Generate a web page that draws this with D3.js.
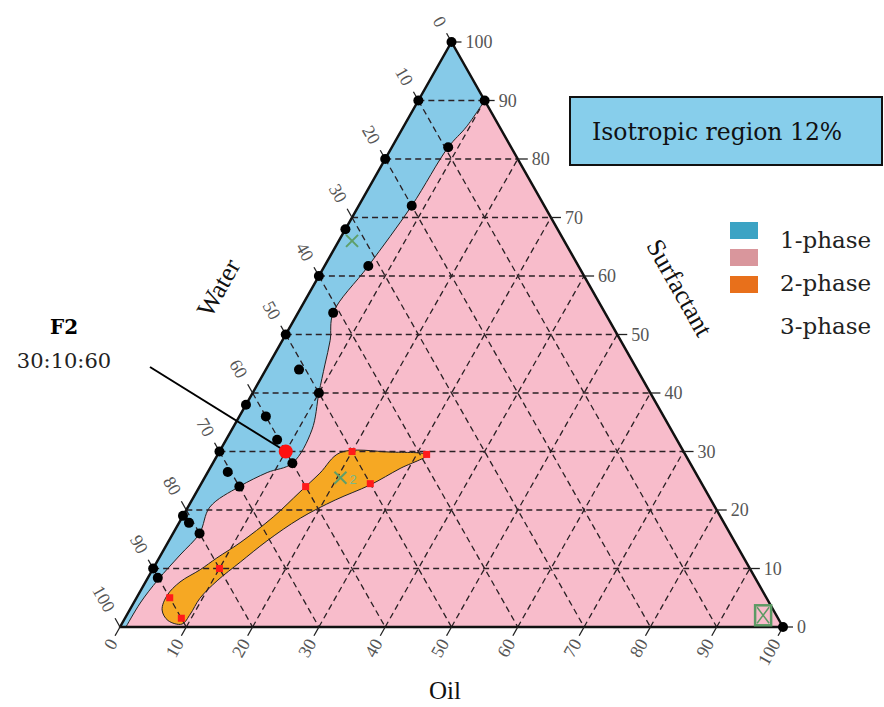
<!DOCTYPE html>
<html>
<head>
<meta charset="utf-8">
<script src="https://cdn.jsdelivr.net/npm/d3@7"></script>
<style>
  body { margin: 0; background: #fff; }
  svg { display: block; }
</style>
</head>
<body>
<svg id="chart" width="884" height="707"></svg>
<script>
// Compositions are [water, oil, surfactant] in percent.
const tickValues = [0, 10, 20, 30, 40, 50, 60, 70, 80, 90, 100];
const tickLabels = tickValues.map(String);
const gridValues = [10, 20, 30, 40, 50, 60, 70, 80, 90];

// Right-hand border of the one-phase (isotropic) region, top to bottom
const onePhaseBoundary = [
  [0, 10, 90], [5, 9.5, 85.5], [9.5, 8.5, 82], [20, 8, 72], [31.7, 6.6, 61.7],
  [41, 5.3, 53.7], [43.8, 7.2, 49], [46.7, 8.5, 44.8], [50, 10, 40],
  [54.2, 12.1, 33.7], [60, 12, 28], [64.6, 9, 26.4], [70, 6, 24],
  [76.2, 3.3, 20.5], [80, 4, 16], [84.8, 2.9, 12.3], [90.2, 1.7, 8.1],
  [94.9, 1, 4.1], [99.1, 0.9, 0]
];

// Outline of the two-phase band
const twoPhaseOutline = [
  [51.9, 18.3, 29.8], [56.6, 17, 26.3], [61.3, 15.6, 23.1], [67.5, 13.7, 18.8],
  [74.7, 10.9, 14.4], [79.5, 8.7, 11.8], [83, 7.2, 9.8], [87.1, 5.2, 7.7],
  [90.2, 4.4, 5.4], [92.2, 4.9, 2.9], [92.2, 6.7, 1.1], [90.4, 9.1, 0.5],
  [88.3, 9.5, 2.2], [85.5, 9.6, 4.9], [81.4, 10.7, 7.9], [76.3, 12.6, 11.1],
  [70.5, 14.8, 14.7], [63.5, 17.9, 18.6], [56.7, 21.6, 21.7], [50.1, 25.6, 24.3],
  [44.2, 28.7, 27.1], [39, 31.6, 29.4], [44.3, 25.8, 29.9]
];

// Titrated compositions (black markers)
const titrationPoints = [
  [0, 0, 100], [0, 10, 90], [10, 0, 90], [9.5, 8.5, 82], [20, 0, 80],
  [20, 8, 72], [32, 0, 68], [31.7, 6.6, 61.7], [40, 0, 60], [41, 5.3, 53.7],
  [50, 0, 50], [51, 5, 44], [50, 10, 40], [62, 0, 38], [60, 4, 36],
  [60.3, 7.7, 32], [60, 12, 28], [70, 0, 30], [71, 3, 26.5], [70, 6, 24],
  [81, 0, 19], [81, 1.5, 17.8], [80, 4, 16], [90, 0, 10], [90, 1.5, 8.4],
  [0, 100, 0]
];

// Compositions on the two-phase border (red squares)
const twoPhasePoints = [
  [39, 31.5, 29.5], [50, 20, 30], [50, 25.5, 24.5], [60, 16, 24],
  [80, 10, 10], [90, 5, 5], [90, 8.5, 1.5]
];

const formulationF2 = [60, 10, 30];
const crossMarkers = [[32, 2, 66], [54.1, 20.5, 25.5]];
const boxedMarker = [2, 96, 2];

const legendItems = [
  { color: "#3ba3c4" }, { color: "#d9969c" }, { color: "#e8701b" }
];
const legendTexts = ["1-phase", "2-phase", "3-phase"];

const svg = d3.select("#chart");

// Ternary projection: horizontal = oil + surfactant/2, vertical = surfactant
const xS = d3.scaleLinear().domain([0, 100]).range([120, 783]);
const yS = d3.scaleLinear().domain([0, 100]).range([627, 42]);
const proj = ([w, o, s]) => [xS(o + s / 2), yS(s)];

const vTop = proj([0, 0, 100]), vWater = proj([100, 0, 0]), vOil = proj([0, 100, 0]);
const unit = (a, b) => { const dx = b[0] - a[0], dy = b[1] - a[1], L = Math.hypot(dx, dy); return [dx / L, dy / L]; };

// Background of the triangle (two-phase pink)
svg.append("path")
  .attr("d", d3.line()([vTop, vWater, vOil]) + "Z")
  .attr("fill", "#f8bccb");

// One-phase region
const curve = d3.line().curve(d3.curveCatmullRom.alpha(0.5));
const bPath = curve(onePhaseBoundary.map(proj));
svg.append("path")
  .attr("d", `M${vTop}L` + bPath.slice(1) + `L${vWater}Z`)
  .attr("fill", "#86cae8")
  .attr("stroke", "none");
svg.append("path")
  .attr("d", bPath)
  .attr("fill", "none")
  .attr("stroke", "#222")
  .attr("stroke-width", 1);

// Two-phase band
svg.append("path")
  .attr("d", d3.line().curve(d3.curveCatmullRomClosed.alpha(0.5))(twoPhaseOutline.map(proj)))
  .attr("fill", "#f6a823")
  .attr("stroke", "#222")
  .attr("stroke-width", 1);

// Dashed grid
const grid = svg.append("g")
  .attr("stroke", "#2a2024")
  .attr("stroke-width", 1.3)
  .attr("stroke-dasharray", "6,4")
  .attr("fill", "none");
gridValues.forEach(v => {
  [[[100 - v, 0, v], [0, 100 - v, v]],
   [[v, 0, 100 - v], [v, 100 - v, 0]],
   [[100 - v, v, 0], [0, v, 100 - v]]].forEach(seg => {
    grid.append("path").attr("d", d3.line()(seg.map(proj)));
  });
});

// Triangle border
svg.append("path")
  .attr("d", d3.line()([vTop, vWater, vOil]) + "Z")
  .attr("fill", "none")
  .attr("stroke", "#111")
  .attr("stroke-width", 2.5)
  .attr("stroke-linejoin", "round");

// Axes: ticks and labels
const tickLen = 10;
const dirRight = unit(vWater, vOil);   // surfactant ticks
const dirLeft = unit(vOil, vTop);      // water ticks
const dirBottom = unit(vTop, vWater);  // oil ticks
const axes = [
  { at: v => proj([0, 100 - v, v]), dir: dirRight, gap: 4, angle: 0, anchor: "start" },
  { at: v => proj([v, 0, 100 - v]), dir: dirLeft, gap: 9, angle: Math.atan2(-dirLeft[1], -dirLeft[0]) * 180 / Math.PI, anchor: "end" },
  { at: v => proj([100 - v, v, 0]), dir: dirBottom, gap: 5, angle: Math.atan2(-dirBottom[1], -dirBottom[0]) * 180 / Math.PI, anchor: "end" }
];
const axisG = svg.append("g");
axes.forEach(ax => {
  tickValues.forEach((v, i) => {
    const p = ax.at(v);
    const q = [p[0] + ax.dir[0] * tickLen, p[1] + ax.dir[1] * tickLen];
    axisG.append("line")
      .attr("x1", p[0]).attr("y1", p[1]).attr("x2", q[0]).attr("y2", q[1])
      .attr("stroke", "#222").attr("stroke-width", 1.3);
    const t = [q[0] + ax.dir[0] * ax.gap, q[1] + ax.dir[1] * ax.gap];
    axisG.append("text")
      .attr("transform", `translate(${t}) rotate(${ax.angle})`)
      .attr("text-anchor", ax.anchor)
      .attr("dy", "0.35em")
      .attr("font-family", "Liberation Serif, serif")
      .attr("font-size", 18)
      .attr("fill", "#555")
      .text(tickLabels[i]);
  });
});

// Axis titles
const title = (txt, x, y, angle, size) => svg.append("text")
  .attr("transform", `translate(${x},${y}) rotate(${angle})`)
  .attr("text-anchor", "middle")
  .attr("font-family", "Liberation Serif, serif")
  .attr("font-size", size)
  .attr("fill", "#111")
  .text(txt);
title("Water", 226, 292, -60.5, 26);
title("Surfactant", 672, 292, 60.5, 26);
title("Oil", 445, 699, 0, 25);

// Markers
svg.append("g").selectAll("circle")
  .data(titrationPoints).join("circle")
  .attr("cx", d => proj(d)[0]).attr("cy", d => proj(d)[1])
  .attr("r", 5).attr("fill", "#000");

svg.append("g").selectAll("rect")
  .data(twoPhasePoints).join("rect")
  .attr("x", d => proj(d)[0] - 3.5).attr("y", d => proj(d)[1] - 3.5)
  .attr("width", 7).attr("height", 7).attr("fill", "#ff1a1a");

crossMarkers.forEach(c => {
  const [x, y] = proj(c);
  svg.append("path")
    .attr("d", `M${x - 6},${y - 6}L${x + 6},${y + 6}M${x - 6},${y + 6}L${x + 6},${y - 6}`)
    .attr("stroke", "#5f9f6a").attr("stroke-width", 2).attr("fill", "none");
});
{
  const [x, y] = proj(crossMarkers[1]);
  svg.append("text").attr("x", x + 9).attr("y", y + 6)
    .attr("font-family", "Liberation Sans, sans-serif").attr("font-size", 13)
    .attr("fill", "#7bb98a").text("2");
}
{
  const [x, y] = proj(boxedMarker);
  const g = svg.append("g").attr("stroke", "#5c9a64").attr("fill", "none").attr("stroke-width", 2.5);
  g.append("rect").attr("x", x - 8).attr("y", y - 10).attr("width", 16).attr("height", 20);
  g.append("path").attr("d", `M${x - 6},${y - 8}L${x + 6},${y + 8}M${x - 6},${y + 8}L${x + 6},${y - 8}`)
    .attr("stroke-width", 1.5);
}

// F2 formulation and its callout
{
  const [x, y] = proj(formulationF2);
  svg.append("line").attr("x1", 150).attr("y1", 367).attr("x2", x - 3).attr("y2", y - 2)
    .attr("stroke", "#000").attr("stroke-width", 2);
  svg.append("circle").attr("cx", x).attr("cy", y).attr("r", 7).attr("fill", "#ff1010");
  svg.append("text").attr("x", 64).attr("y", 334).attr("text-anchor", "middle")
    .attr("font-family", "DejaVu Serif, serif").attr("font-weight", "bold").attr("font-size", 20)
    .attr("fill", "#000").text("F2");
  svg.append("text").attr("x", 64).attr("y", 368).attr("text-anchor", "middle")
    .attr("font-family", "DejaVu Serif, serif").attr("font-size", 21)
    .attr("fill", "#222").text("30:10:60");
}

// Info box
svg.append("rect").attr("x", 570).attr("y", 97).attr("width", 312).attr("height", 68)
  .attr("fill", "#87ceeb").attr("stroke", "#111").attr("stroke-width", 2);
svg.append("text").attr("x", 592).attr("y", 140)
  .attr("font-family", "DejaVu Serif, serif").attr("font-size", 23.5)
  .attr("fill", "#111").text("Isotropic region 12%");

// Legend
const leg = svg.append("g");
leg.selectAll("rect").data(legendItems).join("rect")
  .attr("x", 730).attr("y", (d, i) => 222 + i * 27)
  .attr("width", 28).attr("height", 17).attr("fill", d => d.color);
leg.selectAll("text").data(legendTexts).join("text")
  .attr("x", 780).attr("y", (d, i) => 248 + i * 43)
  .attr("font-family", "DejaVu Serif, serif").attr("font-size", 23)
  .attr("fill", "#222").text(d => d);
</script>
</body>
</html>
